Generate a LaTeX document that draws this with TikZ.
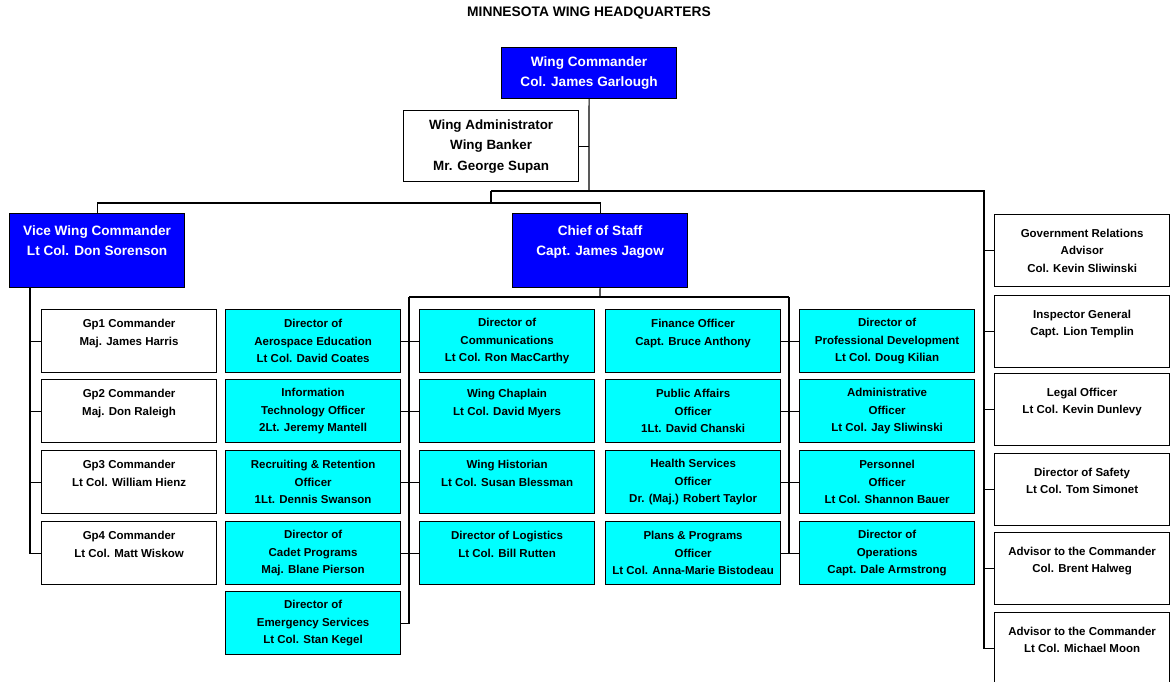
\documentclass[tikz,border=0pt]{standalone}
\usepackage{fontspec}
\setmainfont{Liberation Sans}
\definecolor{cmdblue}{HTML}{0000FF}
\definecolor{staffcyan}{HTML}{00FFFF}
\tikzset{
  orgbox/.style={draw=black,line width=1.2pt,anchor=north west,inner sep=0pt,
    minimum width=175pt,align=center,font=\fontsize{11.5}{17.5}\selectfont\bfseries},
  cmdbox/.style={orgbox,fill=cmdblue,text=white,font=\fontsize{13.6}{20.5}\selectfont\bfseries},
  staffbox/.style={orgbox,fill=staffcyan,minimum height=63pt},
  unitbox/.style={orgbox,fill=white,minimum height=63pt},
  advbox/.style={orgbox,fill=white,minimum height=72pt},
  wire/.style={line width=1.2pt}
}
\begin{document}
\begin{tikzpicture}[x=1pt,y=-1pt]
  \useasboundingbox (0,0) rectangle (1170,681);
  \clip (0,0) rectangle (1170,681);

  \node[font=\fontsize{13.8}{15}\selectfont\bfseries] (title) at (589,13) {MINNESOTA WING HEADQUARTERS};

  % comando e estado-maior
  \node[cmdbox,minimum height=51pt] (wc) at (501,47) {Wing Commander\\Col. James Garlough};
  \node[orgbox,minimum height=71pt,font=\fontsize{13.4}{20.5}\selectfont\bfseries] (wa) at (403,110) {Wing Administrator\\Wing Banker\\Mr. George Supan};
  \node[cmdbox,minimum height=74pt] (vwc) at (9,213) {Vice Wing Commander\\Lt Col. Don Sorenson\\\mbox{}};
  \node[cmdbox,minimum height=74pt] (cos) at (512,213) {Chief of Staff\\Capt. James Jagow\\\mbox{}};

  % grupos
  \node[unitbox] (gp1) at (41,309) {Gp1 Commander\\Maj. James Harris\\\mbox{}};
  \node[unitbox] (gp2) at (41,379) {Gp2 Commander\\Maj. Don Raleigh\\\mbox{}};
  \node[unitbox] (gp3) at (41,450) {Gp3 Commander\\Lt Col. William Hienz\\\mbox{}};
  \node[unitbox] (gp4) at (41,521) {Gp4 Commander\\Lt Col. Matt Wiskow\\\mbox{}};

  % diretores, coluna 1
  \node[staffbox] (ae) at (225,309) {Director of\\Aerospace Education\\Lt Col. David Coates};
  \node[staffbox] (it) at (225,379) {Information\\Technology Officer\\2Lt. Jeremy Mantell};
  \node[staffbox] (rr) at (225,450) {Recruiting \& Retention\\Officer\\1Lt. Dennis Swanson};
  \node[staffbox] (cp) at (225,521) {Director of\\Cadet Programs\\Maj. Blane Pierson};
  \node[staffbox] (es) at (225,591) {Director of\\Emergency Services\\Lt Col. Stan Kegel};

  % coluna 2
  \node[staffbox] (dc) at (419,309) {Director of\\Communications\\Lt Col. Ron MacCarthy};
  \node[staffbox] (ch) at (419,379) {Wing Chaplain\\Lt Col. David Myers\\\mbox{}};
  \node[staffbox] (hi) at (419,450) {Wing Historian\\Lt Col. Susan Blessman\\\mbox{}};
  \node[staffbox] (lg) at (419,521) {Director of Logistics\\Lt Col. Bill Rutten\\\mbox{}};

  % coluna 3
  \node[staffbox] (fo) at (605,309) {Finance Officer\\Capt. Bruce Anthony\\\mbox{}};
  \node[staffbox] (pa) at (605,379) {Public Affairs\\Officer\\1Lt. David Chanski};
  \node[staffbox] (hs) at (605,450) {Health Services\\Officer\\Dr. (Maj.) Robert Taylor};
  \node[staffbox] (pp) at (605,521) {Plans \& Programs\\Officer\\Lt Col. Anna-Marie Bistodeau};

  % coluna 4
  \node[staffbox] (pd) at (799,309) {Director of\\Professional Development\\Lt Col. Doug Kilian};
  \node[staffbox] (ao) at (799,379) {Administrative\\Officer\\Lt Col. Jay Sliwinski};
  \node[staffbox] (po) at (799,450) {Personnel\\Officer\\Lt Col. Shannon Bauer};
  \node[staffbox] (op) at (799,521) {Director of\\Operations\\Capt. Dale Armstrong};

  % assessores
  \node[advbox] (gr) at (994,214) {Government Relations\\Advisor\\Col. Kevin Sliwinski};
  \node[advbox] (ig) at (994,295) {Inspector General\\Capt. Lion Templin\\\mbox{}};
  \node[advbox] (lo) at (994,373) {Legal Officer\\Lt Col. Kevin Dunlevy\\\mbox{}};
  \node[advbox] (sf) at (994,453) {Director of Safety\\Lt Col. Tom Simonet\\\mbox{}};
  \node[advbox] (ahw) at (994,532) {Advisor to the Commander\\Col. Brent Halweg\\\mbox{}};
  \node[advbox] (amn) at (994,612) {Advisor to the Commander\\Lt Col. Michael Moon\\\mbox{}};

  % barramentos
  \coordinate (hq) at (589,191);
  \coordinate (lbus) at (491,191);
  \coordinate (rtop) at (984,191);
  \coordinate (sbus) at (491,203);
  \coordinate (vline) at (30,287);
  \coordinate (cbus) at (600,297);
  \coordinate (cl) at (409,297);
  \coordinate (cr) at (789,297);

  % linhas
  \draw[wire] (wc.south) -- (hq);
  \draw[wire] (wa.east) -- (wa.east -| hq);
  \draw[wire] (lbus) -- (rtop) |- (amn.west);
  \draw[wire] (lbus) -- (sbus);
  \draw[wire] (vwc.north) |- (sbus) -| (cos.north);
  \draw[wire] (vline) |- (gp4.west);
  \draw[wire] (gp1.west) -- (gp1.west -| vline) (gp2.west) -- (gp2.west -| vline)
    (gp3.west) -- (gp3.west -| vline);
  \draw[wire] (cos.south) -- (cbus);
  \draw[wire] (cl) -- (cr);
  \draw[wire] (cl) |- (es.east);
  \draw[wire] (cr) |- (op.west);
  \draw[wire] (ae.east) -- (dc.west) (it.east) -- (ch.west) (rr.east) -- (hi.west)
    (cp.east) -- (lg.west);
  \draw[wire] (fo.east) -- (pd.west) (pa.east) -- (ao.west) (hs.east) -- (po.west)
    (pp.east) -- (op.west);
  \draw[wire] (gr.west) -- (gr.west -| rtop) (ig.west) -- (ig.west -| rtop)
    (lo.west) -- (lo.west -| rtop) (sf.west) -- (sf.west -| rtop)
    (ahw.west) -- (ahw.west -| rtop);
\end{tikzpicture}
\end{document}
